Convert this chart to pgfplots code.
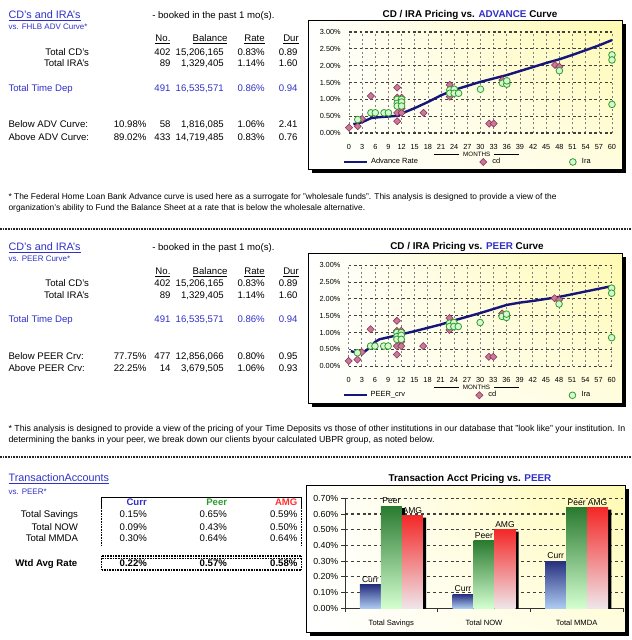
\documentclass[border=0pt]{standalone}
\usepackage{pgfplots}
\pgfplotsset{compat=1.18}
\usepackage{pgfplotstable}
\usepackage{fontspec}
\setmainfont{Liberation Sans}
\usetikzlibrary{shadings}

\newcommand\fs[1]{\fontsize{#1}{#1}\selectfont}

\definecolor{tblue}{HTML}{3030C8}
\definecolor{navyline}{HTML}{16167A}
\definecolor{cdfill}{HTML}{C87898}
\definecolor{cdedge}{HTML}{8A2E55}
\definecolor{irafill}{HTML}{D6F7CF}
\definecolor{iraedge}{HTML}{2E9E2E}
\definecolor{bgyel}{HTML}{FFFAB0}
\definecolor{pgreen}{HTML}{2E9A2E}
\definecolor{ared}{HTML}{FF3030}
\definecolor{currtop}{HTML}{26307E}
\definecolor{currbot}{HTML}{AECBF2}
\definecolor{peertop}{HTML}{2A7A30}
\definecolor{peerbot}{HTML}{D4FFD0}
\definecolor{amgtop}{HTML}{F42828}
\definecolor{amgbot}{HTML}{EFE6EA}

% months, rate (%)
\pgfplotstableread{
m r
0 0.16
2 0.20
3 0.42
5 1.10
11 1.35
11 1.05
11 0.60
11 0.35
12 1.05
12 0.73
12 0.60
17 0.60
23 1.43
23 1.08
32 0.28
33 0.28
35 1.57
47 2.02
48 1.97
}\cdtab

\pgfplotstableread{
m r
2 0.40
5 0.60
6 0.60
8 0.60
9 0.60
11 1.00
11 0.88
11 0.80
12 1.00
12 0.92
12 0.80
23 1.28
23 1.18
24 1.30
24 1.18
25 1.18
30 1.30
35 1.48
36 1.45
36 1.55
48 1.85
60 2.32
60 2.17
60 0.85
}\iratab

\pgfplotstableread{
m r
1 0.26
3 0.32
5 0.44
6 0.46
9 0.49
11 0.51
12 0.58
15 0.74
18 0.92
21 1.12
24 1.28
27 1.40
30 1.52
33 1.62
36 1.72
39 1.84
42 1.96
45 2.08
48 2.19
51 2.32
54 2.46
57 2.60
60 2.76
}\advtab

\pgfplotstableread{
m r
0.5 0.45
1 0.43
2 0.42
3 0.38
4 0.47
5 0.58
6 0.72
7 0.80
9 0.86
12 0.95
15 1.04
18 1.14
21 1.24
24 1.36
27 1.47
30 1.58
33 1.70
36 1.82
39 1.89
42 1.94
45 2.00
48 2.06
51 2.14
54 2.22
57 2.30
60 2.38
}\peertab

\pgfplotstableread{
c curr peer amg
0 0.15 0.65 0.59
1 0.09 0.43 0.50
2 0.30 0.64 0.64
}\trtab

\pgfplotsset{
  crv/.style={
    anchor=south west, scale only axis, width=197.25pt, height=75.75pt,
    xmin=0, xmax=60, ymin=0, ymax=3,
    xtick={0,3,...,60}, ytick={0,0.5,...,3},
    axis line style={draw=none}, major tick length=0pt,
    xmajorgrids, ymajorgrids,
    x grid style={black!50, line width=0.5pt, dash pattern=on 1.5pt off 1.8pt},
    y grid style={black!75, line width=0.8pt, dash pattern=on 2pt off 2pt},
    tick label style={font=\fs{5.5}},
    yticklabel={\pgfmathprintnumber[fixed,fixed zerofill,precision=2]{\tick}\%},
    /pgf/number format/assume math mode=true,
    xticklabel style={yshift=-5pt},
    yticklabel style={xshift=-2.7pt},
    xlabel={\rule[0.5ex]{18.75pt}{0.5pt}\hspace{3pt}MONTHS\hspace{3pt}\rule[0.5ex]{18.75pt}{0.5pt}},
    xlabel style={at={(axis description cs:0.486,-0.208)}, anchor=center, font=\fs{4.7}},
    clip=false,
    legend columns=3,
    legend cell align=left,
    legend style={at={(-0.023,-0.287)}, anchor=west, draw=none, fill=none,
      font=\fs{5.6}, inner sep=0pt},
  },
  mklegend/.style={legend image code/.code={\path[draw=none,fill=none] (0cm,0cm) -- (0.32cm,0cm);
      \draw[##1] plot coordinates {(0.15cm,0cm)};}},
  cdmark/.style={only marks, mark=square*, mark size=1.9pt,
    mark options={rotate=45, fill=cdfill, draw=cdedge, line width=0.4pt}, mklegend},
  iramark/.style={only marks, mark=*, mark size=2.5pt,
    mark options={fill=irafill, draw=iraedge, line width=0.6pt}, mklegend},
}

\newcommand\vals[6]{%
  \node[t,anchor=base east,#2] at (170.7,#1) {#3};
  \node[t,anchor=base east,#2] at (224,#1) {#4};
  \node[t,anchor=base east,#2] at (265,#1) {#5};
  \node[t,anchor=base east,#2] at (297.7,#1) {#6};}

% one shaded bar: column, category, shift, top colour, bottom colour, label
\newcommand\trbar[6]{%
  \addplot[ybar, bar width=15.75pt, bar shift=#3, draw=none, top color=#4, bottom color=#5,
    restrict x to domain=#2:#2, nodes near coords={#6},
    every node near coord/.append style={xshift=#3}] table[x=c,y=#1]{\trtab};}

\begin{document}
\begin{tikzpicture}
\begin{scope}[x=0.75pt,y=-0.75pt]
\path[use as bounding box] (0,0) rectangle (632,640);
% chart frames
\fill[black] (311.5,23.5) rectangle (626,172.5);
\shade[upper left=white,lower left=white,lower right=white!60!bgyel,upper right=bgyel] (308,20) rectangle (622,169);
\draw[black,line width=0.6pt] (308,20) rectangle (622,169);
\fill[black] (311.5,256.5) rectangle (626,406.5);
\shade[upper left=white,lower left=white,lower right=white!60!bgyel,upper right=bgyel] (308,253) rectangle (622,403);
\draw[black,line width=0.6pt] (308,253) rectangle (622,403);
\fill[black] (309.5,488.5) rectangle (628.5,635.5);
\shade[upper left=white,lower left=white,lower right=white!60!bgyel,upper right=bgyel] (306,485) rectangle (625,632);
\draw[black,line width=0.6pt] (306,485) rectangle (625,632);
% separators
\draw[black!85, line width=1pt, dash pattern=on 1.2pt off 0.8pt] (0,229) -- (632,229);
\draw[black!85, line width=1pt, dash pattern=on 1.2pt off 0.8pt] (0,457) -- (632,457);
\end{scope}

% ---- chart 1
\begin{axis}[crv, at={(261.75pt,-99.75pt)},
  legend style={/tikz/column 2/.style={column sep=42.7pt}, /tikz/column 4/.style={column sep=48.2pt}}]
\addplot[navyline, line width=1.8pt] table[x=m,y=r]{\advtab};
\addlegendentry{Advance Rate}
\addplot[cdmark] table[x=m,y=r]{\cdtab};
\addlegendentry{cd}
\addplot[iramark] table[x=m,y=r]{\iratab};
\addlegendentry{Ira}
\end{axis}

% ---- chart 2
\begin{axis}[crv, at={(261.5pt,-274.7pt)},
  legend style={/tikz/column 2/.style={column sep=49.4pt}, /tikz/column 4/.style={column sep=50.8pt}}]
\addplot[navyline, line width=1.8pt] table[x=m,y=r]{\peertab};
\addlegendentry{PEER\_crv}
\addplot[cdmark] table[x=m,y=r]{\cdtab};
\addlegendentry{cd}
\addplot[iramark] table[x=m,y=r]{\iratab};
\addlegendentry{Ira}
\end{axis}

% ---- chart 3
\begin{axis}[anchor=south west, at={(258.75pt,-456.2pt)}, scale only axis,
  width=208.5pt, height=82.5pt,
  ymin=0, ymax=0.7, xmin=-0.5, xmax=2.5,
  ytick={0,0.1,0.2,0.3,0.4,0.5,0.6,0.7},
  yticklabel={\pgfmathprintnumber[fixed,fixed zerofill,precision=2]{\tick}\%},
  /pgf/number format/assume math mode=true,
  xtick={0,1,2}, xticklabels={Total Savings,Total NOW,Total MMDA},
  minor xtick={-0.5,0.5,1.5,2.5},
  axis x line*=bottom, axis y line*=left,
  axis line style={-, black!80, line width=0.6pt},
  major x tick style={draw=none},
  minor x tick style={draw=black!80, line width=0.6pt},
  y tick style={draw=black!80, line width=0.6pt},
  major tick length=3pt, minor tick length=3pt, tick align=outside,
  ymajorgrids,
  y grid style={black!75, line width=0.8pt, dash pattern=on 2.2pt off 2.2pt},
  xticklabel style={font=\fs{5.7}, yshift=-2pt},
  yticklabel style={font=\fs{6.6}, xshift=1.5pt},
  every node near coord/.append style={font=\fs{6.4}, text=black, inner sep=1.5pt},
]
% drop shadows
\addplot[ybar, bar width=15.75pt, bar shift=-13.35pt, fill=black, draw=none, yshift=-1.5pt, forget plot] table[x=c,y=curr]{\trtab};
\addplot[ybar, bar width=15.75pt, bar shift=2.4pt, fill=black, draw=none, yshift=-1.5pt, forget plot] table[x=c,y=peer]{\trtab};
\addplot[ybar, bar width=15.75pt, bar shift=18.15pt, fill=black, draw=none, yshift=-1.5pt, forget plot] table[x=c,y=amg]{\trtab};
% bars
\trbar{curr}{0}{-15.75pt}{currtop}{currbot}{Curr}
\trbar{curr}{1}{-15.75pt}{currtop}{currbot}{Curr}
\trbar{curr}{2}{-15.75pt}{currtop}{currbot}{Curr}
\trbar{peer}{0}{0pt}{peertop}{peerbot}{Peer}
\trbar{peer}{1}{0pt}{peertop}{peerbot}{Peer}
\trbar{peer}{2}{0pt}{peertop}{peerbot}{Peer}
\trbar{amg}{0}{15.75pt}{amgtop}{amgbot}{AMG}
\trbar{amg}{1}{15.75pt}{amgtop}{amgbot}{AMG}
\trbar{amg}{2}{15.75pt}{amgtop}{amgbot}{AMG}
\end{axis}

\begin{scope}[x=0.75pt,y=-0.75pt,
  t/.style={inner sep=0pt, font=\fs{7.2}},
  tt/.style={inner sep=0pt, font=\fs{8.1}, text=tblue},
  sb/.style={inner sep=0pt, font=\fs{6.0}, text=tblue},
  fn/.style={inner sep=0pt, font=\fs{6.3}},
  ct/.style={inner sep=0pt, font=\bfseries\fs{7.4}}]
% ---- section 1
\node[ct,anchor=base] at (470,17.3) {CD / IRA Pricing vs. \textcolor{tblue}{ADVANCE} Curve};
\node[tt,anchor=base west] at (8.3,18.3) {\underline{CD's and IRA's}};
\node[sb,anchor=base west] at (8.3,29.3) {vs. FHLB ADV Curve*};
\node[t,anchor=base west] at (152,18.3) {- booked in the past 1 mo(s).};
\node[t,anchor=base east] at (170.7,41.7) {\underline{No.}};
\node[t,anchor=base east] at (227.7,41.7) {\underline{Balance}};
\node[t,anchor=base east] at (265,41.7) {\underline{Rate}};
\node[t,anchor=base east] at (299,41.7) {\underline{Dur}};
\node[t,anchor=base east] at (89.3,55) {Total CD's};
\vals{55}{}{402}{15,206,165}{0.83\%}{0.89}
\node[t,anchor=base east] at (89.3,66.7) {Total IRA's};
\vals{66.7}{}{89}{1,329,405}{1.14\%}{1.60}
\node[t,anchor=base west,text=tblue] at (8.3,91) {Total Time Dep};
\vals{91}{text=tblue}{491}{16,535,571}{0.86\%}{0.94}
\node[t,anchor=base west] at (8.3,127.7) {Below ADV Curve:};
\node[t,anchor=base east] at (146.7,127.7) {10.98\%};
\vals{127.7}{}{58}{1,816,085}{1.06\%}{2.41}
\node[t,anchor=base west] at (8.3,140) {Above ADV Curve:};
\node[t,anchor=base east] at (146.7,140) {89.02\%};
\vals{140}{}{433}{14,719,485}{0.83\%}{0.76}
\node[fn,anchor=base west] at (8.3,199.3) {* The Federal Home Loan Bank Advance curve is used here as a surrogate for "wholesale funds". This analysis is designed to provide a view of the};
\node[fn,anchor=base west] at (8.3,210) {organization's ability to Fund the Balance Sheet at a rate that is below the wholesale alternative.};
% ---- section 2
\node[ct,anchor=base] at (467,249.3) {CD / IRA Pricing vs. \textcolor{tblue}{PEER} Curve};
\node[tt,anchor=base west] at (8.3,250) {\underline{CD's and IRA's}};
\node[sb,anchor=base west] at (8.3,261) {vs. PEER Curve*};
\node[t,anchor=base west] at (152,250) {- booked in the past 1 mo(s).};
\node[t,anchor=base east] at (170.7,274.3) {\underline{No.}};
\node[t,anchor=base east] at (227.7,274.3) {\underline{Balance}};
\node[t,anchor=base east] at (265,274.3) {\underline{Rate}};
\node[t,anchor=base east] at (299,274.3) {\underline{Dur}};
\node[t,anchor=base east] at (89.3,286) {Total CD's};
\vals{286}{}{402}{15,206,165}{0.83\%}{0.89}
\node[t,anchor=base east] at (89.3,298.3) {Total IRA's};
\vals{298.3}{}{89}{1,329,405}{1.14\%}{1.60}
\node[t,anchor=base west,text=tblue] at (8.3,322.3) {Total Time Dep};
\vals{322.3}{text=tblue}{491}{16,535,571}{0.86\%}{0.94}
\node[t,anchor=base west] at (8.3,359.3) {Below PEER Crv:};
\node[t,anchor=base east] at (146.7,359.3) {77.75\%};
\vals{359.3}{}{477}{12,856,066}{0.80\%}{0.95}
\node[t,anchor=base west] at (8.3,371) {Above PEER Crv:};
\node[t,anchor=base east] at (146.7,371) {22.25\%};
\vals{371}{}{14}{3,679,505}{1.06\%}{0.93}
\node[fn,anchor=base west,font=\fs{6.6}] at (8.3,431.7) {* This analysis is designed to provide a view of the pricing of your Time Deposits vs those of other institutions in our database that "look like" your institution. In};
\node[fn,anchor=base west,font=\fs{6.6}] at (8.3,442.3) {determining the banks in your peer, we break down our clients byour calculated UBPR group, as noted below.};
% ---- section 3
\node[ct,anchor=base] at (470,481) {Transaction Acct Pricing vs. \textcolor{tblue}{PEER}};
\node[tt,anchor=base west] at (8.3,481.7) {\underline{TransactionAccounts}};
\node[sb,anchor=base west] at (8.3,494.3) {vs. PEER*};
\draw[black, line width=0.8pt] (101.7,508) -- (101.7,497.7) -- (301.7,497.7) -- (301.7,508);
\draw[black, line width=0.8pt, dash pattern=on 0.6pt off 0.6pt] (101.7,508) -- (101.7,546) (301.7,508) -- (301.7,546);
\draw[black, line width=0.8pt, dash pattern=on 0.6pt off 0.6pt] (101.7,556) rectangle (301.7,570);
\draw[black, line width=0.6pt, dash pattern=on 0.6pt off 0.6pt] (101.7,558.3) -- (301.7,558.3);
\node[t,anchor=base,font=\bfseries\fs{7.2},text=tblue] at (136.7,505.7) {Curr};
\node[t,anchor=base,font=\bfseries\fs{7.2},text=pgreen] at (216.7,505.7) {Peer};
\node[t,anchor=base east,font=\bfseries\fs{7.2},text=ared] at (297.7,505.7) {AMG};
\node[t,anchor=base east] at (78.3,517.3) {Total Savings};
\node[t,anchor=base] at (133.3,517.3) {0.15\%};
\node[t,anchor=base] at (213.3,517.3) {0.65\%};
\node[t,anchor=base east] at (297.7,517.3) {0.59\%};
\node[t,anchor=base east] at (78.3,530) {Total NOW};
\node[t,anchor=base] at (133.3,530) {0.09\%};
\node[t,anchor=base] at (213.3,530) {0.43\%};
\node[t,anchor=base east] at (297.7,530) {0.50\%};
\node[t,anchor=base east] at (78.3,541.7) {Total MMDA};
\node[t,anchor=base] at (133.3,541.7) {0.30\%};
\node[t,anchor=base] at (213.3,541.7) {0.64\%};
\node[t,anchor=base east] at (297.7,541.7) {0.64\%};
\node[t,anchor=base west,font=\bfseries\fs{7.2}] at (15,566) {Wtd Avg Rate};
\node[t,anchor=base,font=\bfseries\fs{7.2}] at (133.3,566) {0.22\%};
\node[t,anchor=base,font=\bfseries\fs{7.2}] at (213.3,566) {0.57\%};
\node[t,anchor=base east,font=\bfseries\fs{7.2}] at (297.7,566) {0.58\%};
\end{scope}
\end{tikzpicture}
\end{document}
